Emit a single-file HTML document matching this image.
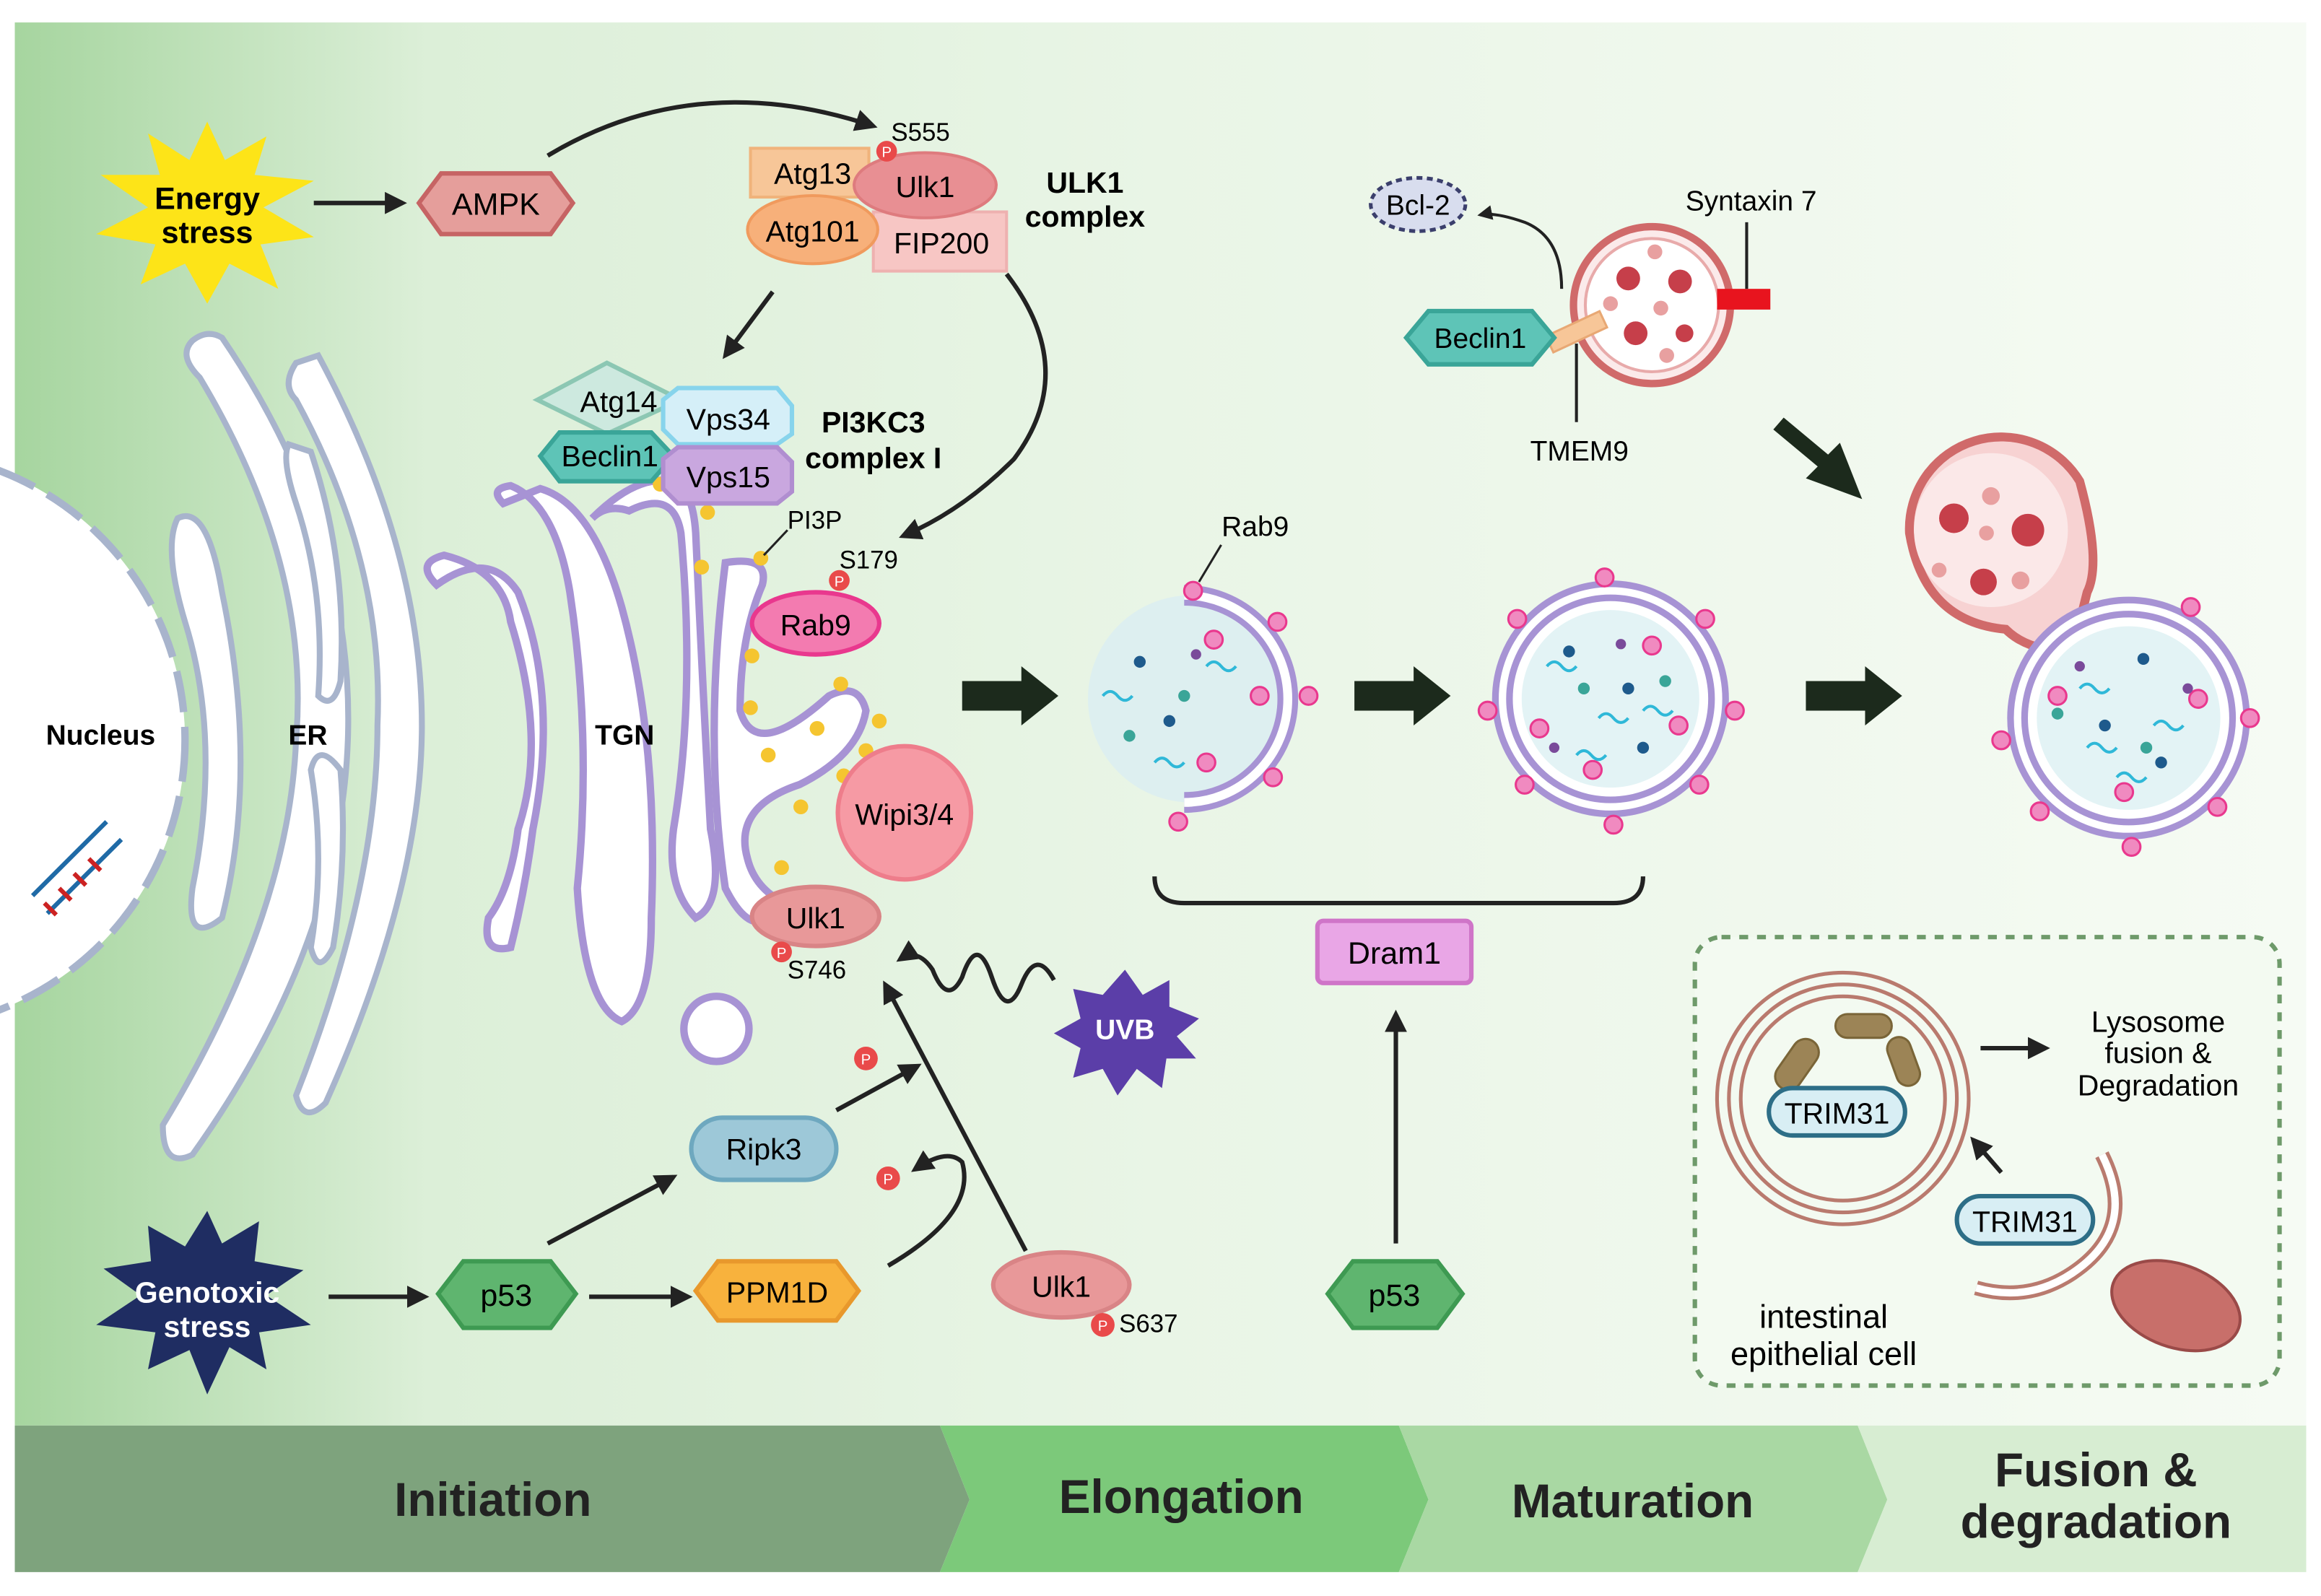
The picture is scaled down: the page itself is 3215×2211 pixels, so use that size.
<!DOCTYPE html>
<html><head><meta charset="utf-8"><style>
html,body{margin:0;padding:0;background:#fff}
svg{display:block}
text{font-family:"Liberation Sans",Arial,sans-serif}
</style></head><body>
<svg width="3215" height="2211" viewBox="0 0 1568 1078" xmlns="http://www.w3.org/2000/svg">
<defs>
<linearGradient id="bg" x1="0" x2="1" y1="0" y2="0">
<stop offset="0" stop-color="#a6d59f"/><stop offset="0.18" stop-color="#dcefd8"/><stop offset="0.5" stop-color="#e9f5e6"/><stop offset="1" stop-color="#f6fbf4"/>
</linearGradient>
<marker id="ar" viewBox="0 0 10 10" refX="8" refY="5" markerWidth="5" markerHeight="5" orient="auto"><path d="M0,0L10,5L0,10z" fill="#222"/></marker>
</defs>
<rect x="0" y="0" width="1568" height="1078" fill="#fff"/>
<rect x="10" y="15" width="1548" height="948" fill="url(#bg)"/>

<path d="M10,963H635L655,1013L635,1062H10z" fill="#7ea37d"/>
<path d="M635,963H945L965,1013L945,1062H635L655,1013z" fill="#7cc97a"/>
<path d="M945,963H1255L1275,1013L1255,1062H945L965,1013z" fill="#a9d8a3"/>
<path d="M1255,963H1558V1062H1255L1275,1013z" fill="#d7edd2"/>
<g font-weight="bold" fill="#222" text-anchor="middle">
<text x="333" y="1024" font-size="32">Initiation</text>
<text x="798" y="1022" font-size="32">Elongation</text>
<text x="1103" y="1025" font-size="32">Maturation</text>
<text x="1416" y="1004" font-size="32">Fusion &amp;</text>
<text x="1416" y="1039" font-size="32">degradation</text>
</g>

<circle cx="-70" cy="500" r="195" fill="#fff" stroke="#a8b4cc" stroke-width="5" stroke-dasharray="28,10"/>
<text x="68" y="503" font-size="19" font-weight="bold" text-anchor="middle">Nucleus</text>
<g stroke-width="3">
<path d="M22,605L72,555M32,617L82,567" stroke="#1f6aa6"/>
<path d="M30,610l8,8M40,600l8,8M50,590l8,8M60,580l8,8" stroke="#c22"/>
</g>

<g fill="#fff" stroke="#a8b4cc" stroke-width="4">
<path d="M130,230 Q120,240 135,255 Q210,380 200,500 Q195,620 110,760 Q110,790 130,780 Q230,640 235,500 Q240,360 150,228 Q140,222 130,230z"/>
<path d="M200,245 Q190,260 200,270 Q260,380 255,490 Q255,600 200,740 Q205,760 220,745 Q285,600 285,490 Q285,370 215,240z"/>
<path d="M120,350 Q110,370 125,420 Q150,500 130,600 Q125,640 150,620 Q175,520 150,400 Q140,340 120,350z"/>
<path d="M195,300 Q190,310 200,340 Q220,400 215,470 Q225,480 230,460 Q235,380 210,305z"/>
<path d="M210,520 Q215,500 230,520 Q235,580 225,640 Q215,660 210,640 Q220,580 210,520z"/>
</g>
<text x="208" y="503" font-size="19" font-weight="bold" text-anchor="middle">ER</text>

<g fill="#fff" stroke="#a793d4" stroke-width="5">
<path d="M295,395 Q280,380 300,375 Q340,385 345,420 Q370,500 350,560 Q345,600 330,620 Q325,645 345,640 Q355,600 360,560 Q378,470 350,400 Q330,370 295,395z"/>
<path d="M340,340 Q330,330 345,328 Q375,340 385,400 Q400,500 390,600 Q395,680 420,690 Q440,680 440,620 Q445,500 420,410 Q400,340 365,330z"/>
<path d="M400,350 Q410,340 425,345 Q455,330 460,360 Q470,470 455,560 Q450,600 470,620 Q490,610 480,560 Q475,470 470,360 Q468,330 455,325 Q430,320 400,350z"/>
<path d="M490,380 Q520,375 515,395 Q500,430 500,480 Q510,515 560,470 Q580,460 585,480 Q580,510 540,530 Q495,545 505,580 Q510,600 530,610 Q510,640 490,600 Q475,500 490,380z"/>
<circle cx="484" cy="695" r="22"/>
</g>
<text x="422" y="503" font-size="19" font-weight="bold" text-anchor="middle">TGN</text>
<g fill="#f5c530">
<circle cx="446" cy="327" r="5"/><circle cx="478" cy="346" r="5"/><circle cx="474" cy="383" r="5"/><circle cx="514" cy="377" r="5"/>
<circle cx="508" cy="443" r="5"/><circle cx="507" cy="478" r="5"/><circle cx="519" cy="510" r="5"/><circle cx="552" cy="492" r="5"/>
<circle cx="568" cy="462" r="5"/><circle cx="594" cy="487" r="5"/><circle cx="585" cy="507" r="5"/><circle cx="570" cy="524" r="5"/>
<circle cx="541" cy="545" r="5"/><circle cx="528" cy="586" r="5"/>
</g>

<polygon points="140,82 152,108 180,92 172,118 212,122 178,140 212,160 176,165 188,195 155,178 140,205 125,178 95,192 105,165 65,158 100,140 68,118 108,118 100,90 128,108" fill="#fde418"/>
<text x="140" y="141" font-size="21" font-weight="bold" text-anchor="middle">Energy</text>
<text x="140" y="164" font-size="21" font-weight="bold" text-anchor="middle">stress</text>
<line x1="212" y1="137" x2="272" y2="137" stroke="#222" stroke-width="3" marker-end="url(#ar)"/>
<polygon points="283,137 298,117 372,117 387,137 372,158 298,158" fill="#e59e9b" stroke="#c66464" stroke-width="3"/>
<text x="335" y="145" font-size="21" text-anchor="middle">AMPK</text>
<path d="M370,105 Q470,45 590,85" fill="none" stroke="#222" stroke-width="3" marker-end="url(#ar)"/>

<rect x="507" y="100" width="80" height="33" fill="#f7c698" stroke="#f0b37b" stroke-width="2"/>
<text x="549" y="124" font-size="20" text-anchor="middle">Atg13</text>
<rect x="590" y="143" width="90" height="40" fill="#f7c6c4" stroke="#eeb1b0" stroke-width="2"/>
<text x="636" y="171" font-size="20" text-anchor="middle">FIP200</text>
<ellipse cx="625" cy="125" rx="48" ry="22" fill="#e88f93" stroke="#de7b7e" stroke-width="2"/>
<text x="625" y="133" font-size="20" text-anchor="middle">Ulk1</text>
<ellipse cx="549" cy="155" rx="44" ry="23" fill="#f7b07a" stroke="#f09a5d" stroke-width="2"/>
<text x="549" y="163" font-size="20" text-anchor="middle">Atg101</text>
<circle cx="599" cy="102" r="7" fill="#e94a4a"/><text x="599" y="106" font-size="10" fill="#fff" text-anchor="middle">P</text>
<text x="602" y="95" font-size="17">S555</text>
<text x="733" y="130" font-size="20" font-weight="bold" text-anchor="middle">ULK1</text>
<text x="733" y="153" font-size="20" font-weight="bold" text-anchor="middle">complex</text>
<line x1="522" y1="197" x2="490" y2="240" stroke="#222" stroke-width="3" marker-end="url(#ar)"/>
<path d="M680,185 Q730,250 685,310 Q650,345 610,362" fill="none" stroke="#222" stroke-width="3" marker-end="url(#ar)"/>

<polygon points="363,270 410,245 460,270 410,293" fill="#cde9df" stroke="#8cc7b3" stroke-width="3"/>
<text x="418" y="278" font-size="20" text-anchor="middle">Atg14</text>
<polygon points="365,308 378,292 440,292 455,308 440,325 378,325" fill="#5ec4b7" stroke="#3aa598" stroke-width="3"/>
<text x="412" y="315" font-size="20" text-anchor="middle">Beclin1</text>
<polygon points="448,270 458,262 525,262 535,274 535,293 525,300 458,300 448,290" fill="#d5eff8" stroke="#87d4ec" stroke-width="3"/>
<text x="492" y="290" font-size="20" text-anchor="middle">Vps34</text>
<polygon points="448,310 458,302 525,302 535,312 535,332 525,340 458,340 448,330" fill="#c9a7df" stroke="#b08ed0" stroke-width="3"/>
<text x="492" y="329" font-size="20" text-anchor="middle">Vps15</text>
<text x="590" y="292" font-size="20" font-weight="bold" text-anchor="middle">PI3KC3</text>
<text x="590" y="316" font-size="20" font-weight="bold" text-anchor="middle">complex I</text>
<text x="532" y="357" font-size="17">PI3P</text>
<line x1="516" y1="375" x2="532" y2="358" stroke="#222" stroke-width="1.5"/>
<text x="567" y="384" font-size="17">S179</text>
<circle cx="567" cy="392" r="7" fill="#e94a4a"/><text x="567" y="396" font-size="10" fill="#fff" text-anchor="middle">P</text>
<ellipse cx="551" cy="421" rx="43" ry="21" fill="#f37bb0" stroke="#e9388e" stroke-width="3"/>
<text x="551" y="429" font-size="20" text-anchor="middle">Rab9</text>
<circle cx="611" cy="549" r="45" fill="#f69aa4" stroke="#ee7d8b" stroke-width="3"/>
<text x="611" y="557" font-size="20" text-anchor="middle">Wipi3/4</text>
<ellipse cx="551" cy="619" rx="43" ry="20" fill="#e89899" stroke="#d98486" stroke-width="3"/>
<text x="551" y="627" font-size="20" text-anchor="middle">Ulk1</text>
<circle cx="528" cy="643" r="7" fill="#e94a4a"/><text x="528" y="647" font-size="10" fill="#fff" text-anchor="middle">P</text>
<text x="532" y="661" font-size="17">S746</text>

<polygon points="760,655 772,672 790,662 790,680 810,688 795,700 808,715 788,715 785,735 768,722 755,740 745,722 725,728 730,708 712,698 730,688 725,668 745,672" fill="#5b3ea8"/>
<text x="760" y="702" font-size="19" font-weight="bold" fill="#fff" text-anchor="middle">UVB</text>
<path d="M712,662 Q700,640 690,665 Q680,690 670,660 Q660,630 650,660 Q640,680 630,655 Q620,640 608,648" fill="none" stroke="#222" stroke-width="3" marker-end="url(#ar)"/>

<polygon points="140,818 150,840 175,825 172,852 205,858 180,875 210,895 175,900 180,925 155,910 140,942 128,912 100,925 105,900 65,895 95,875 70,857 102,852 100,828 125,842" fill="#1f2d62"/>
<text x="140" y="880" font-size="20" font-weight="bold" fill="#fff" text-anchor="middle">Genotoxic</text>
<text x="140" y="903" font-size="20" font-weight="bold" fill="#fff" text-anchor="middle">stress</text>
<line x1="222" y1="876" x2="287" y2="876" stroke="#222" stroke-width="3" marker-end="url(#ar)"/>
<polygon points="296,874 313,852 372,852 389,874 372,897 313,897" fill="#5fb56f" stroke="#3e9a52" stroke-width="3"/>
<text x="342" y="882" font-size="21" text-anchor="middle">p53</text>
<line x1="370" y1="840" x2="455" y2="795" stroke="#222" stroke-width="3" marker-end="url(#ar)"/>
<line x1="398" y1="876" x2="465" y2="876" stroke="#222" stroke-width="3" marker-end="url(#ar)"/>
<rect x="467" y="755" width="98" height="42" rx="21" fill="#9dc8d8" stroke="#6ea8bf" stroke-width="3"/>
<text x="516" y="783" font-size="20" text-anchor="middle">Ripk3</text>
<polygon points="470,872 485,852 565,852 580,872 565,892 485,892" fill="#f8b23d" stroke="#e8982c" stroke-width="3"/>
<text x="525" y="880" font-size="20" text-anchor="middle">PPM1D</text>
<line x1="565" y1="750" x2="620" y2="720" stroke="#222" stroke-width="3" marker-end="url(#ar)"/>
<circle cx="585" cy="715" r="8" fill="#e94a4a"/><text x="585" y="719" font-size="10" fill="#fff" text-anchor="middle">P</text>
<path d="M600,855 Q660,820 650,785 Q640,775 618,790" fill="none" stroke="#222" stroke-width="3" marker-end="url(#ar)"/>
<circle cx="600" cy="796" r="8" fill="#e94a4a"/><text x="600" y="800" font-size="10" fill="#fff" text-anchor="middle">P</text>
<line x1="693" y1="845" x2="598" y2="665" stroke="#222" stroke-width="3" marker-end="url(#ar)"/>
<ellipse cx="717" cy="868" rx="46" ry="22" fill="#e89899" stroke="#d98486" stroke-width="3"/>
<text x="717" y="876" font-size="20" text-anchor="middle">Ulk1</text>
<circle cx="745" cy="895" r="8" fill="#e94a4a"/><text x="745" y="899" font-size="10" fill="#fff" text-anchor="middle">P</text>
<text x="756" y="900" font-size="17">S637</text>

<g fill="#1c2a1c">
<path d="M650,460h40v-10l25,20l-25,20v-10h-40z"/>
<path d="M915,460h40v-10l25,20l-25,20v-10h-40z"/>
<path d="M1220,460h40v-10l25,20l-25,20v-10h-40z"/>
<path d="M1205,282l30,25l8,-8l15,38l-38,-14l8,-8l-30,-25z"/>
</g>

<circle cx="805" cy="472" r="70" fill="#d9eef2" opacity="0.8"/>
<path d="M800,402 A70,70 0 0 1 800,542" fill="none" stroke="#a793d4" stroke-width="14"/>
<path d="M800,402 A70,70 0 0 1 800,542" fill="none" stroke="#fff" stroke-width="6"/>
<g fill="#f08ac0" stroke="#e9388e" stroke-width="1.5">
<circle cx="806" cy="399" r="6"/><circle cx="863" cy="420" r="6"/><circle cx="884" cy="470" r="6"/><circle cx="860" cy="525" r="6"/><circle cx="796" cy="555" r="6"/><circle cx="820" cy="432" r="6"/><circle cx="851" cy="470" r="6"/><circle cx="815" cy="515" r="6"/>
</g>
<line x1="810" y1="393" x2="825" y2="368" stroke="#222" stroke-width="1.5"/>
<text x="848" y="362" font-size="19" text-anchor="middle">Rab9</text>

<circle cx="1088" cy="472" r="73" fill="#fff" stroke="#a793d4" stroke-width="14"/>
<circle cx="1088" cy="472" r="73" fill="none" stroke="#fff" stroke-width="5"/>
<circle cx="1088" cy="472" r="60" fill="#e3f3f5"/>
<g fill="#f08ac0" stroke="#e9388e" stroke-width="1.5">
<circle cx="1084" cy="390" r="6"/><circle cx="1152" cy="418" r="6"/><circle cx="1172" cy="480" r="6"/><circle cx="1148" cy="530" r="6"/><circle cx="1090" cy="557" r="6"/><circle cx="1030" cy="530" r="6"/><circle cx="1005" cy="480" r="6"/><circle cx="1025" cy="418" r="6"/><circle cx="1040" cy="492" r="6"/><circle cx="1116" cy="436" r="6"/><circle cx="1076" cy="520" r="6"/><circle cx="1134" cy="490" r="6"/>
</g>

<!-- autolysosome -->
<path d="M1290,360 A62,62 0 0 1 1405,325 Q1420,380 1410,400 L1400,440 Q1370,440 1355,425 Q1300,420 1290,360z" fill="#f7d2d2" stroke="#d06a6a" stroke-width="6"/>
<circle cx="1345" cy="358" r="52" fill="#fbe8e8"/>
<g fill="#c63f4a"><circle cx="1320" cy="350" r="10"/><circle cx="1370" cy="358" r="11"/><circle cx="1340" cy="393" r="9"/></g>
<g fill="#e8a0a0"><circle cx="1345" cy="335" r="6"/><circle cx="1310" cy="385" r="5"/><circle cx="1365" cy="392" r="6"/><circle cx="1342" cy="360" r="5"/></g>
<circle cx="1438" cy="485" r="75" fill="#fff" stroke="#a793d4" stroke-width="14"/>
<circle cx="1438" cy="485" r="75" fill="none" stroke="#fff" stroke-width="5"/>
<circle cx="1438" cy="485" r="62" fill="#e3f3f5"/>
<g fill="#f08ac0" stroke="#e9388e" stroke-width="1.5">
<circle cx="1480" cy="410" r="6"/><circle cx="1520" cy="485" r="6"/><circle cx="1498" cy="545" r="6"/><circle cx="1440" cy="572" r="6"/><circle cx="1378" cy="548" r="6"/><circle cx="1352" cy="500" r="6"/><circle cx="1390" cy="470" r="6"/><circle cx="1485" cy="472" r="6"/><circle cx="1435" cy="535" r="6"/>
</g>

<!-- cargo -->
<g fill="#1e5a8c"><circle cx="770" cy="447" r="4"/><circle cx="790" cy="487" r="4"/><circle cx="1100" cy="465" r="4"/><circle cx="1110" cy="505" r="4"/><circle cx="1060" cy="440" r="4"/><circle cx="1422" cy="490" r="4"/><circle cx="1448" cy="445" r="4"/><circle cx="1460" cy="515" r="4"/></g>
<g fill="#3aa598"><circle cx="800" cy="470" r="4"/><circle cx="763" cy="497" r="4"/><circle cx="1070" cy="465" r="4"/><circle cx="1125" cy="460" r="4"/><circle cx="1390" cy="482" r="4"/><circle cx="1450" cy="505" r="4"/></g>
<g fill="#7a4a9a"><circle cx="808" cy="442" r="3.5"/><circle cx="1050" cy="505" r="3.5"/><circle cx="1095" cy="435" r="3.5"/><circle cx="1478" cy="465" r="3.5"/><circle cx="1405" cy="450" r="3.5"/></g>
<g fill="none" stroke="#2fb8d8" stroke-width="2">
<path d="M745,470q5,-6 10,0t10,0"/><path d="M780,515q5,-6 10,0t10,0"/><path d="M815,450q5,-6 10,0t10,0"/><path d="M1045,450q5,-6 10,0t10,0"/><path d="M1080,485q5,-6 10,0t10,0"/><path d="M1065,510q5,-6 10,0t10,0"/><path d="M1110,480q5,-6 10,0t10,0"/><path d="M1405,465q5,-6 10,0t10,0"/><path d="M1430,525q5,-6 10,0t10,0"/><path d="M1410,505q5,-6 10,0t10,0"/><path d="M1455,490q5,-6 10,0t10,0"/>
</g>

<path d="M780,592 Q780,610 800,610 H1090 Q1110,610 1110,592" fill="none" stroke="#222" stroke-width="3"/>
<rect x="890" y="622" width="104" height="42" rx="4" fill="#e9a6e6" stroke="#cf75c8" stroke-width="3"/>
<text x="942" y="651" font-size="21" text-anchor="middle">Dram1</text>
<line x1="943" y1="840" x2="943" y2="685" stroke="#222" stroke-width="3" marker-end="url(#ar)"/>
<polygon points="897,874 914,852 971,852 988,874 971,897 914,897" fill="#5fb56f" stroke="#3e9a52" stroke-width="3"/>
<text x="942" y="882" font-size="21" text-anchor="middle">p53</text>

<ellipse cx="958" cy="138" rx="32" ry="18" fill="#d8ddee" stroke="#3b3f6c" stroke-width="2.5" stroke-dasharray="4,3"/>
<text x="958" y="145" font-size="19" text-anchor="middle">Bcl-2</text>
<path d="M1055,195 Q1055,160 1030,150 Q1010,143 1000,145" fill="none" stroke="#222" stroke-width="2" marker-end="url(#ar)"/>
<circle cx="1116" cy="206" r="53" fill="#fbeaea" stroke="#d06a6a" stroke-width="5"/>
<circle cx="1116" cy="206" r="45" fill="#fff" stroke="#e8aaaa" stroke-width="2"/>
<g fill="#c63f4a"><circle cx="1100" cy="188" r="8"/><circle cx="1135" cy="190" r="8"/><circle cx="1105" cy="225" r="8"/><circle cx="1138" cy="225" r="6"/></g>
<g fill="#e8a0a0"><circle cx="1118" cy="170" r="5"/><circle cx="1088" cy="205" r="5"/><circle cx="1122" cy="208" r="5"/><circle cx="1126" cy="240" r="5"/></g>
<rect x="1160" y="195" width="36" height="14" fill="#e8141e"/>
<line x1="1180" y1="150" x2="1180" y2="195" stroke="#222" stroke-width="2"/>
<text x="1183" y="142" font-size="19" text-anchor="middle">Syntaxin 7</text>
<rect x="1045" y="218" width="40" height="12" fill="#f7c698" stroke="#e8a874" stroke-width="1.5" transform="rotate(-25 1065 224)"/>
<polygon points="950,228 965,210 1035,210 1050,228 1035,246 965,246" fill="#5ec4b7" stroke="#3aa598" stroke-width="3"/>
<text x="1000" y="235" font-size="19" text-anchor="middle">Beclin1</text>
<line x1="1065" y1="232" x2="1065" y2="285" stroke="#222" stroke-width="2"/>
<text x="1067" y="311" font-size="19" text-anchor="middle">TMEM9</text>

<rect x="1145" y="633" width="395" height="303" rx="18" fill="#f3faf1" stroke="#6e9a6a" stroke-width="3" stroke-dasharray="6,6"/>
<g fill="none" stroke="#b97a6e" stroke-width="2.5">
<circle cx="1245" cy="742" r="85"/><circle cx="1245" cy="742" r="77"/><circle cx="1245" cy="742" r="69"/>
</g>
<g fill="#9c8456" stroke="#7a6538" stroke-width="1.5">
<rect x="1205" y="700" width="18" height="38" rx="9" transform="rotate(35 1214 719)"/>
<rect x="1240" y="685" width="38" height="16" rx="8"/>
<rect x="1278" y="700" width="16" height="34" rx="8" transform="rotate(-20 1286 717)"/>
</g>
<rect x="1195" y="735" width="92" height="32" rx="16" fill="#d8eef4" stroke="#2d6e87" stroke-width="3"/>
<text x="1241" y="759" font-size="20" text-anchor="middle">TRIM31</text>
<line x1="1338" y1="708" x2="1382" y2="708" stroke="#222" stroke-width="3" marker-end="url(#ar)"/>
<text x="1458" y="697" font-size="20" text-anchor="middle">Lysosome</text>
<text x="1458" y="718" font-size="20" text-anchor="middle">fusion &amp;</text>
<text x="1458" y="740" font-size="20" text-anchor="middle">Degradation</text>
<line x1="1352" y1="792" x2="1333" y2="770" stroke="#222" stroke-width="3" marker-end="url(#ar)"/>
<path d="M1420,780 Q1445,830 1400,860 Q1370,880 1335,870" fill="none" stroke="#b97a6e" stroke-width="10"/>
<path d="M1420,780 Q1445,830 1400,860 Q1370,880 1335,870" fill="none" stroke="#fff" stroke-width="5"/>
<rect x="1322" y="808" width="92" height="32" rx="16" fill="#d8eef4" stroke="#2d6e87" stroke-width="3"/>
<text x="1368" y="832" font-size="20" text-anchor="middle">TRIM31</text>
<ellipse cx="1470" cy="882" rx="45" ry="28" fill="#c86f6a" stroke="#9a4a48" stroke-width="2" transform="rotate(20 1470 882)"/>
<text x="1232" y="897" font-size="22" text-anchor="middle">intestinal</text>
<text x="1232" y="922" font-size="22" text-anchor="middle">epithelial cell</text>
</svg>
</body></html>
